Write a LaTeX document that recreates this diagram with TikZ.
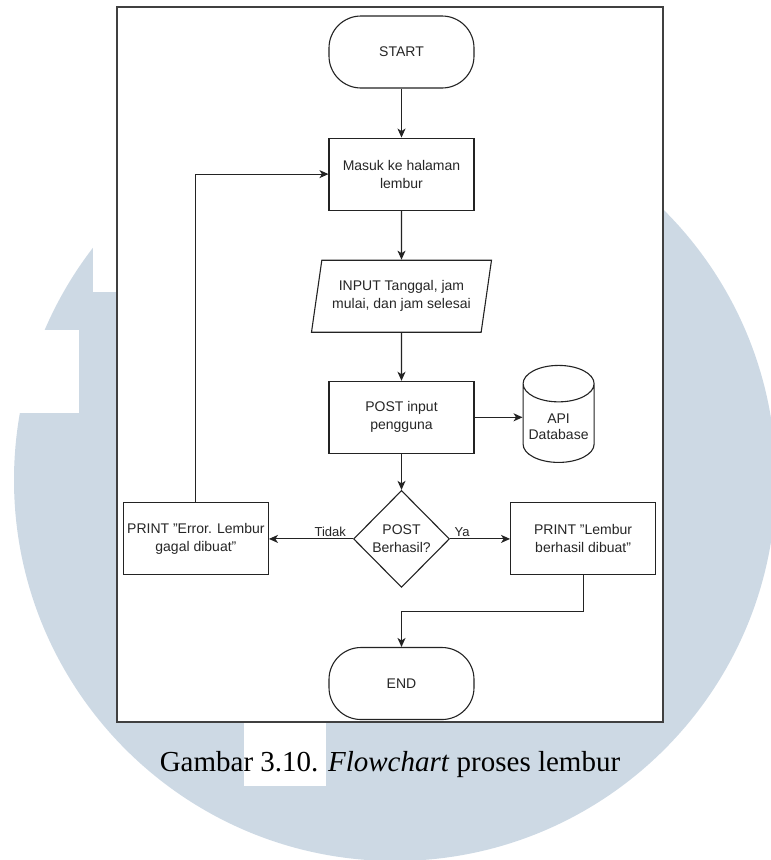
\documentclass[tikz,border=0pt]{standalone}
\usepackage{fontspec}
\setmainfont{Liberation Sans}
\newfontfamily\hurufjudul{Liberation Serif}
\usetikzlibrary{positioning,shapes.geometric,arrows.meta}
\definecolor{biruumn}{RGB}{205,217,228}
\definecolor{garis}{RGB}{35,35,35}

\begin{document}
\begin{tikzpicture}[
        x=1pt, y=-1pt,
        every node/.style={align=center, font=\fontsize{14}{18}\selectfont, text=black!85, inner sep=2pt},
        kotak/.style={draw=garis, line width=1.1pt, minimum width=145pt, minimum height=72pt},
        terminal/.style={kotak, rounded corners=32pt},
        masukan/.style={draw=garis, line width=1.1pt, trapezium, trapezium left angle=71.57, trapezium right angle=108.43,
            trapezium stretches body, minimum width=180pt, minimum height=72pt, inner sep=0pt},
        keputusan/.style={draw=garis, line width=1.1pt, diamond, minimum width=96pt, minimum height=97pt, inner sep=0pt},
        basisdata/.style={draw=garis, line width=1.1pt, cylinder, shape border rotate=90, aspect=0.57,
            minimum width=71pt, minimum height=97pt, font=\fontsize{14}{16}\selectfont},
        keterangan/.style={font=\fontsize{13}{15}\selectfont, inner sep=1.5pt},
        panah/.style={-{Stealth[length=9pt, width=8pt, inset=2.5pt]}, line width=1.1pt, draw=garis}
    ]
    % latar belakang
    \useasboundingbox (0,0) rectangle (771,860);
    \fill[biruumn] (395,480) circle[radius=381pt];
    \fill[white] (93,0) rectangle (200,292);
    \fill[white] (0,330) rectangle (79,413);
    \fill[white] (244,722) rectangle (326,786);
    \draw[black!75, line width=1.2pt, fill=white] (117,7) rectangle (663,722);

    \node[terminal] (mulai) at (401.5,52) {START};
    \node[kotak, below=49pt of mulai] (halaman) {Masuk ke halaman\\lembur};
    \node[masukan, below=49pt of halaman] (input) {INPUT Tanggal, jam\\mulai, dan jam selesai};
    \node[kotak, below=48pt of input] (post) {POST input\\pengguna};
    \node[basisdata, right=48pt of post, yshift=-9pt] (api) {API\\Database};
    \node[keputusan, below=36pt of post] (cek) {POST\\Berhasil?};
    \node[kotak, left=84pt of cek] (gagal) {PRINT "Error. Lembur\\gagal dibuat"};
    \node[kotak, right=60pt of cek] (berhasil) {PRINT "Lembur\\berhasil dibuat"};
    \node[terminal, below=59pt of cek] (selesai) {END};

    \draw[panah] (mulai) -- (halaman);
    \draw[panah] (halaman) -- (input);
    \draw[panah] (input) -- (post);
    \draw[panah] (post.east) -- (api.west |- post.east);
    \draw[panah] (post) -- (cek);
    \draw[panah] (cek) -- node[keterangan, above, pos=0.27] {Tidak} (gagal);
    \draw[panah] (cek) -- node[keterangan, above, pos=0.2] {Ya} (berhasil);
    \draw[panah] (gagal.north) |- (halaman.west);
    \draw[panah] (berhasil.south) -- ++(0,36) -| (selesai.north);

    \node[font=\hurufjudul\fontsize{29}{34}\selectfont, text=black] (judul) at (390,765)
        {Gambar 3.10. \textit{Flowchart} proses lembur};
\end{tikzpicture}
\end{document}
